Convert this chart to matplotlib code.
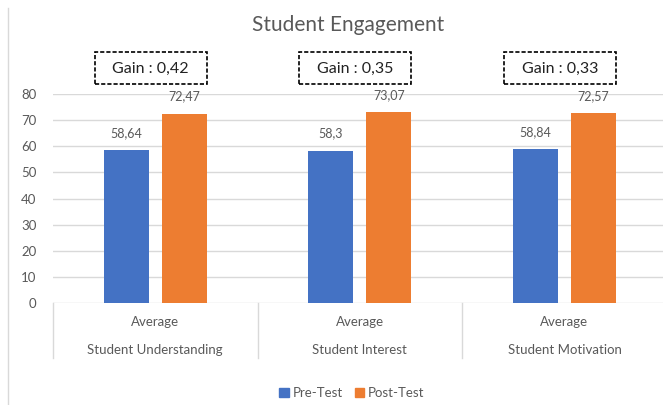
import matplotlib
matplotlib.use("Agg")
import matplotlib.pyplot as plt
import matplotlib.patches as mpatches
from matplotlib.transforms import blended_transform_factory
from matplotlib.lines import Line2D
import numpy as np

# data
categories = ["Student Understanding", "Student Interest", "Student Motivation"]
sub_label = "Average"
pre_test = [58.64, 58.3, 58.84]
post_test = [72.47, 73.07, 72.57]
gains = [0.42, 0.35, 0.33]
y_ticks = [0, 10, 20, 30, 40, 50, 60, 70, 80]

BLUE = "#4472C4"
ORANGE = "#ED7D31"
GRID = "#D9D9D9"
TXT = "#595959"

plt.rcParams["font.family"] = ["Lato", "DejaVu Sans"]

W, H = 663, 405
fig = plt.figure(figsize=(W / 100, H / 100), dpi=100)
fig.patch.set_facecolor("white")

def fx(px):
    return px / W

def fy(py):
    return (H - py) / H

ax = fig.add_axes([fx(53), fy(303), fx(663) - fx(53), fy(94) - fy(303)])

x = np.arange(len(categories))
off = 0.142
bw = 0.22
ax.bar(x - off, pre_test, bw, color=BLUE, label="Pre-Test", zorder=3)
ax.bar(x + off, post_test, bw, color=ORANGE, label="Post-Test", zorder=3)

def fmt(v):
    return str(v).replace(".", ",")

for i in range(len(categories)):
    ax.annotate(fmt(pre_test[i]), (x[i] - off, pre_test[i]), xytext=(0, 8),
                textcoords="offset points", ha="center", va="bottom",
                fontsize=9, color=TXT)
    ax.annotate(fmt(post_test[i]), (x[i] + off, post_test[i]), xytext=(0, 8),
                textcoords="offset points", ha="center", va="bottom",
                fontsize=9, color=TXT)

ax.set_xlim(-0.5, (663 - 155.5) / 204.5)
ax.set_ylim(0, 80)
ax.set_yticks(y_ticks)
ax.set_yticklabels([str(t) for t in y_ticks], fontsize=9.5, color=TXT)
ax.tick_params(axis="y", length=0, pad=12)
ax.set_xticks([])
for s in ax.spines.values():
    s.set_visible(False)
ax.grid(axis="y", color=GRID, linewidth=1.0, zorder=0)
ax.set_axisbelow(True)

# category labels and separators under the axis
tr = blended_transform_factory(ax.transData, fig.transFigure)
for i, name in enumerate(categories):
    ax.text(x[i], fy(322), sub_label, transform=tr, ha="center", va="center",
            fontsize=9.5, color=TXT)
    ax.text(x[i], fy(350), name, transform=tr, ha="center", va="center",
            fontsize=9.5, color=TXT)
for xs in [-0.5, 0.5, 1.5]:
    fig.add_artist(Line2D([xs, xs], [fy(303), fy(358)], transform=tr,
                          color=GRID, linewidth=1.0))

# gain boxes
for i, g in enumerate(gains):
    rect = mpatches.Rectangle((x[i] - 0.296, fy(84)), 0.548, fy(52) - fy(84),
                              transform=tr, fill=False, edgecolor="black",
                              linestyle=(0, (2.5, 1.2)), linewidth=1.2,
                              clip_on=False)
    fig.add_artist(rect)
    fig.text(0, 0, "Gain : " + fmt(g), transform=tr, fontsize=11.5,
             color="#222222", ha="center", va="center",
             position=(x[i] - 0.022, fy(69)))

# left border of chart area
fig.add_artist(Line2D([fx(8), fx(8)], [0, fy(8)], transform=fig.transFigure,
                      color=GRID, linewidth=1.0))

fig.text(fx(348), fy(25), "Student Engagement", ha="center", va="center",
         fontsize=15, color=TXT)

handles = [mpatches.Patch(color=BLUE, label="Pre-Test"),
           mpatches.Patch(color=ORANGE, label="Post-Test")]
fig.legend(handles=handles, loc="center", bbox_to_anchor=(fx(352), fy(393)),
           ncol=2, frameon=False, fontsize=9.5, handlelength=0.7,
           handleheight=0.7, handletextpad=0.3, columnspacing=0.9,
           labelcolor=TXT)

fig.savefig("out.png", dpi=100)
